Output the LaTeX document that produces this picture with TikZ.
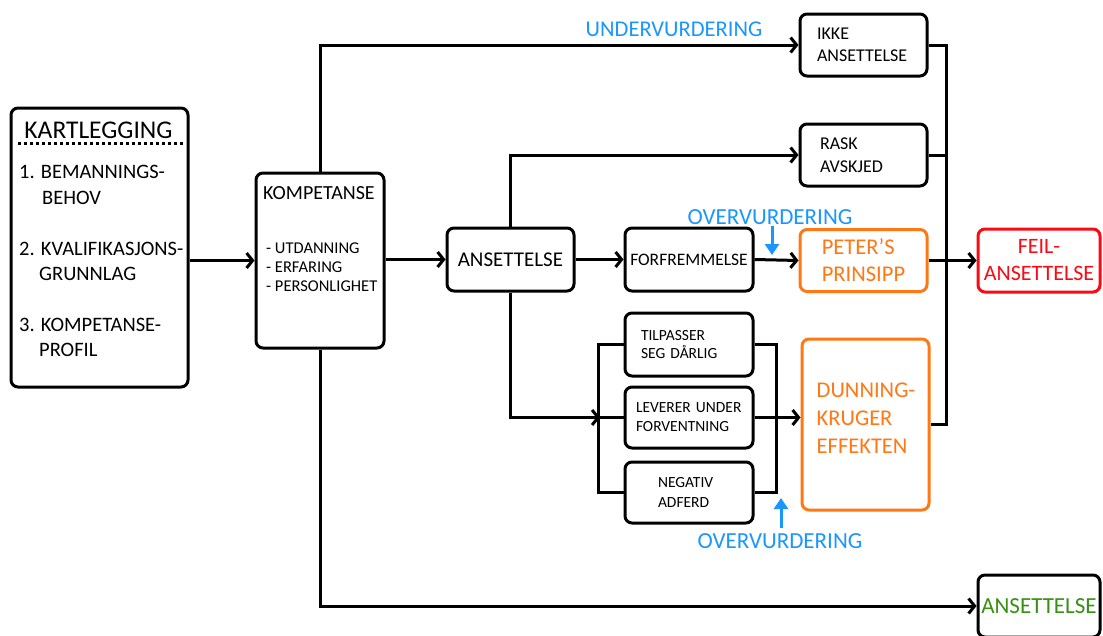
\documentclass[tikz,border=0pt]{standalone}
\usepackage{fontspec}
\setmainfont{Carlito}
\usetikzlibrary{arrows.meta}
\definecolor{cblue}{RGB}{25,150,255}
\definecolor{corange}{RGB}{255,120,20}
\definecolor{cred}{RGB}{250,10,20}
\definecolor{cgreen}{RGB}{55,145,20}
\hyphenpenalty=10000
\exhyphenpenalty=10000
\tikzset{
  box/.style={draw, line width=3pt, rounded corners=7pt, inner sep=0pt, fill=white},
  arr/.style={line width=3pt, -{Straight Barb[length=6pt,width=15pt,line width=3pt]}},
  conn/.style={line width=3pt},
  barr/.style={draw=cblue, line width=3pt, -{Triangle[length=11pt,width=14pt]}},
  bluetxt/.style={text=cblue, font=\fontsize{23}{27}\selectfont, inner sep=0pt},
}
\begin{document}
\begin{tikzpicture}[x=1pt,y=-1pt]
\useasboundingbox (0,0) rectangle (1103,635);
% boxes
\node[box, minimum width=177, minimum height=279] (kart) at (99.5,247.5) {};
\node[box, minimum width=128, minimum height=175] (komp) at (320,260.5) {};
\node[box, minimum width=127, minimum height=63, font=\fontsize{21}{25}\selectfont] (ans) at (510.5,259.5) {ANSETTELSE};
\node[box, minimum width=128, minimum height=63, font=\fontsize{17.5}{21}\selectfont] (forf) at (689,259.5) {FORFREMMELSE};
\node[box, draw=corange, text=corange, minimum width=127, minimum height=62, align=left, font=\fontsize{22.5}{27}\selectfont] (peter) at (863.5,260.5) {PETER\char"27 S\\PRINSIPP};
\node[box, minimum width=127, minimum height=62, align=left, text width=93, font=\fontsize{18}{22}\selectfont] (ikke) at (863.5,45) {IKKE\\ANSETTELSE};
\node[box, minimum width=127, minimum height=62, align=left, text width=87, font=\fontsize{18}{22.5}\selectfont] (rask) at (863.5,155) {RASK\\AVSKJED};
\node[box, draw=cred, text=cred, minimum width=122, minimum height=63, align=center, font=\fontsize{22}{27}\selectfont] (feil) at (1039,260.5) {FEIL-\\ANSETTELSE};
\node[box, minimum width=128, minimum height=63, align=left, text width=96, font=\fontsize{15.5}{18.5}\selectfont] (tilp) at (689,344.5) {TILPASSER\\SEG DÅRLIG};
\node[box, minimum width=128, minimum height=61, align=left, text width=106, font=\fontsize{15.5}{19}\selectfont] (lev) at (689,417.5) {LEVERER UNDER\\FORVENTNING};
\node[box, minimum width=128, minimum height=61, align=left, text width=62, font=\fontsize{15.5}{19.5}\selectfont] (neg) at (689,492.5) {NEGATIV\\ADFERD};
\node[box, draw=corange, minimum width=127, minimum height=171] (dk) at (865.5,424.5) {};
\node[inner sep=0pt, text=corange, align=left, font=\fontsize{22.5}{28}\selectfont] (dkT) at (866,418) {DUNNING-\\KRUGER\\EFFEKTEN};
\node[box, text=cgreen, minimum width=122, minimum height=62, font=\fontsize{23}{27}\selectfont] (ansg) at (1039,606) {ANSETTELSE};
% KARTLEGGING contents
\node[inner sep=0pt, font=\fontsize{25.5}{30}\selectfont] (kartT) at (98.5,130) {KARTLEGGING};
\draw[line width=3pt, dash pattern=on 3pt off 3pt] (18,143) -- (183,143);
\node[inner sep=0pt, anchor=west, align=left, font=\fontsize{20.5}{26}\selectfont] (k1) at (19,185) {1. BEMANNINGS-\\\hspace*{23pt}BEHOV};
\node[inner sep=0pt, anchor=west, align=left, font=\fontsize{20.5}{25.5}\selectfont] (k2) at (19,261.5) {2. KVALIFIKASJONS-\\\hspace*{20pt}GRUNNLAG};
\node[inner sep=0pt, anchor=west, align=left, font=\fontsize{20.5}{25.5}\selectfont] (k3) at (19,337.5) {3. KOMPETANSE-\\\hspace*{20pt}PROFIL};
% KOMPETANSE contents
\node[inner sep=0pt, anchor=west, font=\fontsize{20}{24}\selectfont] (kompT) at (263,193) {KOMPETANSE};
\node[inner sep=0pt, anchor=west, align=left, font=\fontsize{16.5}{19}\selectfont] (kompI) at (266,267) {- UTDANNING\\- ERFARING\\- PERSONLIGHET};
% connectors
\draw[arr] (kart.east |- komp.west) -- (komp.west);
\draw[arr] (komp.east |- ans.west) -- (ans.west);
\draw[arr] (komp.north) |- (ikke.west);
\draw[arr] (komp.south) |- (ansg.west);
\draw[arr] (ans.north) |- (rask.west);
\draw[arr] (ans.east) -- (forf.west);
\draw[arr] (forf.east) -- (peter.west);
\draw[arr] (peter.east) -- (feil.west);
\draw[conn] (ikke.east) -- ++(18,0) |- (dk.east);
\draw[conn] (rask.east) -- ++(18,0);
\coordinate (lb) at (600,417.5);
\draw[arr] (ans.south) |- (lb);
\draw[conn] (tilp.west) -- ++(-25,0) |- (neg.west);
\draw[conn] (lev.west) -- (lb);
\draw[conn] (tilp.east) -- ++(22,0) |- (neg.east);
\draw[arr] (lev.east) -- (lev.east -| dk.west);
% blue labels and arrows
\node[bluetxt, font=\fontsize{22.5}{27}\selectfont] (under) at (674,29.5) {UNDERVURDERING};
\node[bluetxt] (over1) at (770,217) {OVERVURDERING};
\node[bluetxt] (over2) at (780,541) {OVERVURDERING};
\coordinate (bd1) at (772,226);
\coordinate (bd2) at (772,255);
\draw[barr] (bd1) -- (bd2);
\coordinate (bu1) at (781,528);
\coordinate (bu2) at (781,498);
\draw[barr] (bu1) -- (bu2);
\end{tikzpicture}
\end{document}
